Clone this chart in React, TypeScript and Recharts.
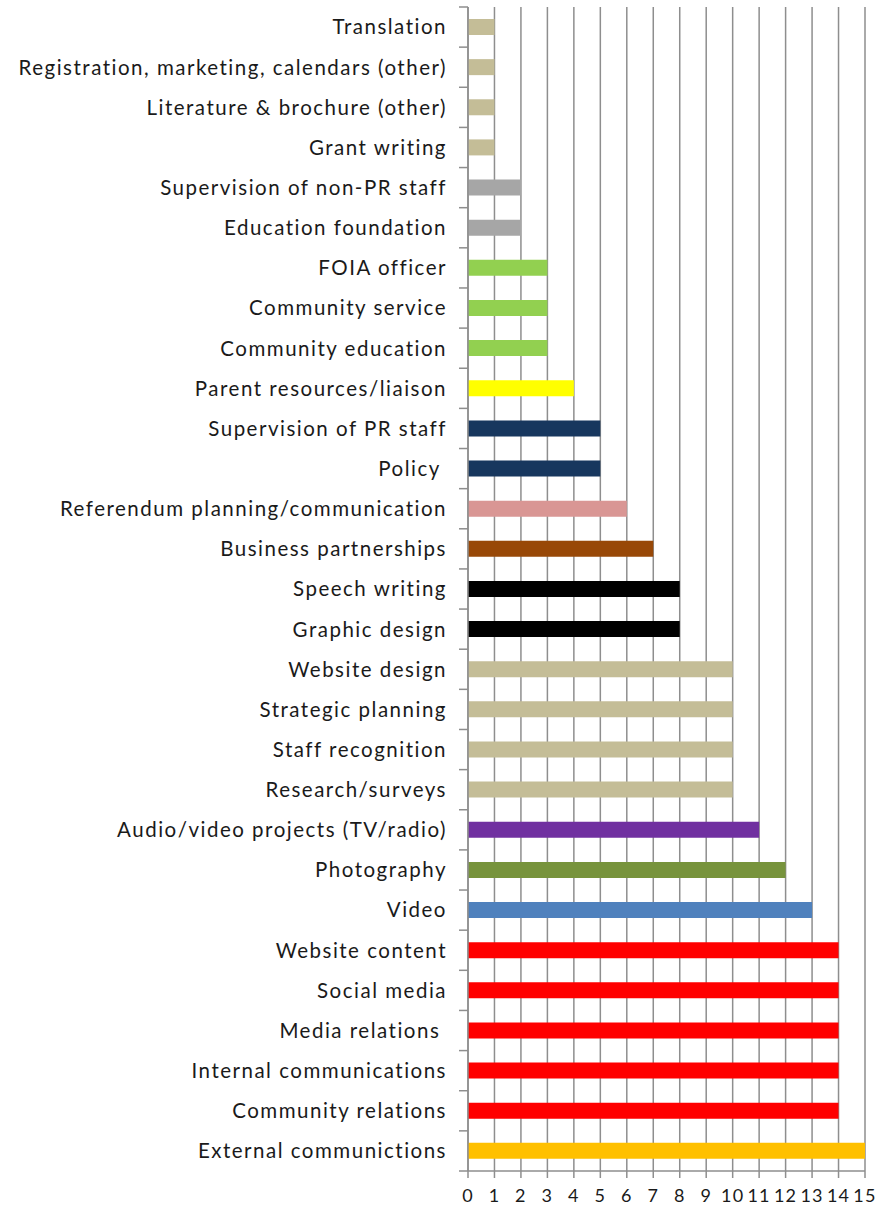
import React from 'react';
import { BarChart, Bar, XAxis, YAxis, CartesianGrid, Cell } from 'recharts';

const categories = [
  'Translation',
  'Registration, marketing, calendars (other)',
  'Literature & brochure (other)',
  'Grant writing',
  'Supervision of non-PR staff',
  'Education foundation',
  'FOIA officer',
  'Community service',
  'Community education',
  'Parent resources/liaison',
  'Supervision of PR staff',
  'Policy ',
  'Referendum planning/communication',
  'Business partnerships',
  'Speech writing',
  'Graphic design',
  'Website design',
  'Strategic planning',
  'Staff recognition',
  'Research/surveys',
  'Audio/video projects (TV/radio)',
  'Photography',
  'Video',
  'Website content',
  'Social media',
  'Media relations ',
  'Internal communications',
  'Community relations',
  'External communictions',
];

const counts = [1, 1, 1, 1, 2, 2, 3, 3, 3, 4, 5, 5, 6, 7, 8, 8, 10, 10, 10, 10, 11, 12, 13, 14, 14, 14, 14, 14, 15];

const barColors = [
  '#C4BD97', '#C4BD97', '#C4BD97', '#C4BD97',
  '#A6A6A6', '#A6A6A6',
  '#92D050', '#92D050', '#92D050',
  '#FFFF00',
  '#17375E', '#17375E',
  '#D99694',
  '#984807',
  '#000000', '#000000',
  '#C4BD97', '#C4BD97', '#C4BD97', '#C4BD97',
  '#7030A0',
  '#77933C',
  '#4F81BD',
  '#FF0000', '#FF0000', '#FF0000', '#FF0000', '#FF0000',
  '#FFC000',
];

const xTicks = [0, 1, 2, 3, 4, 5, 6, 7, 8, 9, 10, 11, 12, 13, 14, 15];
const boundaryTicks = Array.from({ length: categories.length + 1 }, (_, i) => i);

const data = categories.map((name, i) => ({ name, value: counts[i], color: barColors[i], pos: i + 0.5 }));

const FONT = 'Lato, "Open Sans", sans-serif';
const GRID = '#8E8E8E';
const TEXT = '#1a1a1a';

const CatTick = (props: any) => {
  const { x, y, payload } = props;
  return (
    <text x={x} y={y} dy="0.36em" textAnchor="end" fontFamily={FONT} fontSize={20.5} letterSpacing={1.5} fill={TEXT} style={{ whiteSpace: 'pre' }}>
      {payload.value}
    </text>
  );
};

const NumTick = (props: any) => {
  const { x, y, payload } = props;
  return (
    <text x={x} y={y} dy={9} textAnchor="middle" fontFamily={FONT} fontSize={18} letterSpacing={1.2} fill={TEXT}>
      {payload.value}
    </text>
  );
};

const EmptyTick = () => <g />;

export default function App() {
  return (
    <div style={{ position: 'absolute', left: 0, top: 0, background: '#fff' }}>
      <BarChart
        width={876}
        height={1207}
        data={data}
        layout="vertical"
        margin={{ top: 7, right: 11, bottom: 0, left: 0 }}
      >
        <CartesianGrid horizontal={false} vertical stroke={GRID} strokeWidth={1.5} />
        <XAxis
          type="number"
          domain={[0, 15]}
          ticks={xTicks}
          interval={0}
          height={36}
          axisLine={{ stroke: GRID, strokeWidth: 1.5 }}
          tickLine={{ stroke: GRID, strokeWidth: 1.5 }}
          tickSize={7}
          tickMargin={15}
          tick={<NumTick />}
        />
        <YAxis
          yAxisId="bounds"
          type="number"
          dataKey="pos"
          domain={[0, categories.length]}
          ticks={boundaryTicks}
          interval={0}
          width={10}
          tick={<EmptyTick />}
          axisLine={{ stroke: GRID, strokeWidth: 1.5 }}
          tickLine={{ stroke: GRID, strokeWidth: 1.5 }}
          tickSize={9}
          allowDataOverflow
        />
        <YAxis
          yAxisId="cat"
          type="category"
          dataKey="name"
          width={458}
          interval={0}
          axisLine={false}
          tickLine={false}
          tickSize={0}
          tickMargin={11}
          tick={<CatTick />}
        />
        <Bar yAxisId="cat" dataKey="value" barSize={16} isAnimationActive={false}>
          {data.map((d, i) => (
            <Cell key={i} fill={d.color} />
          ))}
        </Bar>
      </BarChart>
    </div>
  );
}
